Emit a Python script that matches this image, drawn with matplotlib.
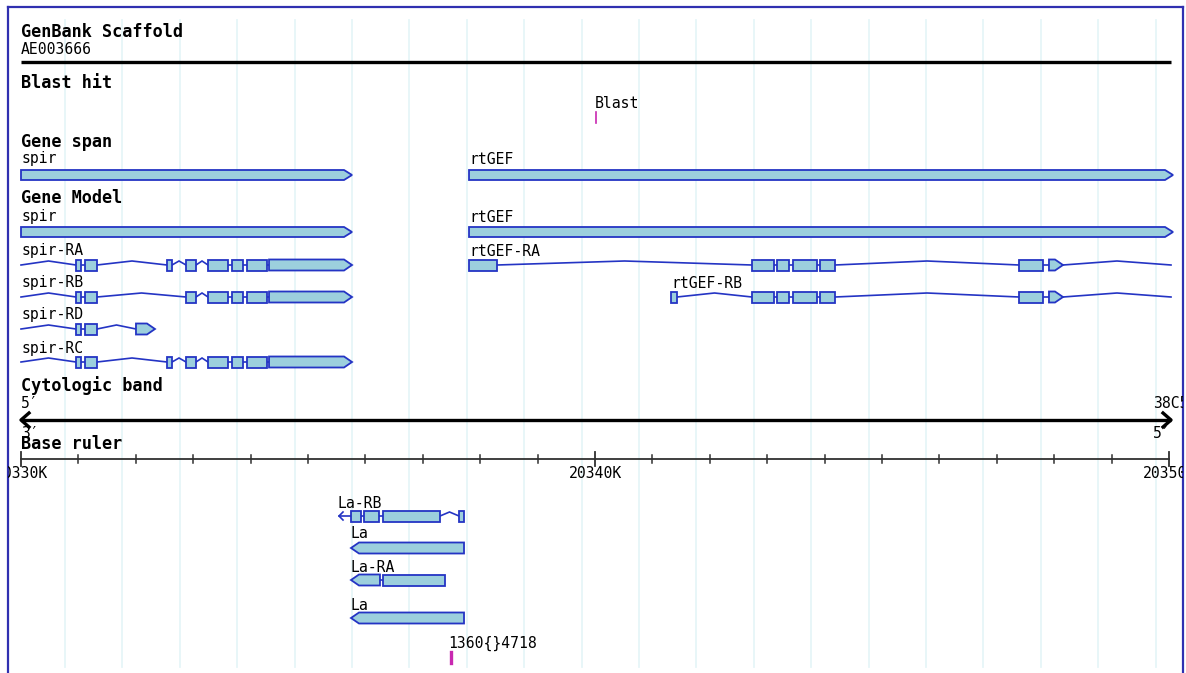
import matplotlib
matplotlib.use('Agg')
import matplotlib.pyplot as plt
from matplotlib.patches import Polygon

# ---------------- data (genomic coordinates, bp) ----------------
VIEW_START = 20330000
VIEW_END = 20350000
RULER_MAJOR = [20330000, 20340000, 20350000]
RULER_LABELS = ['20330K', '20340K', '20350K']
RULER_MINOR_STEP = 1000
GRID_FIRST = 20330767
GRID_STEP = 1000

scaffold_name = 'AE003666'
blast_label = 'Blast'
blast_pos = 20340017
hit_label = '1360{}4718'
hit_pos = 20337491
band_name = '38C5'

spir_span = (20330000, 20335767)
rtgef_span = (20337805, 20350070)

spir_RA = [(20330958, 20331045), (20331115, 20331324), (20332544, 20332631),
           (20332875, 20333049), (20333258, 20333606), (20333676, 20333868),
           (20333937, 20334286), (20334321, 20335767)]
spir_RB = [(20330958, 20331045), (20331115, 20331324),
           (20332875, 20333049), (20333258, 20333606), (20333676, 20333868),
           (20333937, 20334286), (20334321, 20335767)]
spir_RD = [(20330958, 20331045), (20331115, 20331324), (20332003, 20332334)]
spir_RC = list(spir_RA)

rtgef_RA = [(20337805, 20338293), (20342735, 20343118), (20343171, 20343380),
            (20343449, 20343868), (20343920, 20344181), (20347387, 20347805),
            (20347909, 20348153)]
rtgef_RB = [(20341324, 20341429), (20342735, 20343118), (20343171, 20343380),
            (20343449, 20343868), (20343920, 20344181), (20347387, 20347805),
            (20347909, 20348153)]
rtgef_end = 20350035

La_RB = [(20335749, 20335923), (20335976, 20336237), (20336307, 20337300),
         (20337631, 20337718)]
La_RB_start = 20335540
La_span = (20335749, 20337718)
La_RA = [(20335749, 20336254), (20336307, 20337387)]

# ---------------- layout / style ----------------
W, H = 1186, 673
BPP = 10000 / 574.0          # bp per pixel
EDGE = '#2434C4'
FILL = '#9CCFDD'
GRID = '#E6F6F8'
FRAME = '#3030B0'
MAG = '#C828B0'
MONO = 'DejaVu Sans Mono'
FS_B = 12.2
FS_N = 10.6

fig = plt.figure(figsize=(W / 100, H / 100), dpi=100)
ax = fig.add_axes([8 / W, 0, 1175 / W, (H - 7) / H])
ax.set_xlim(VIEW_START - 13 * BPP, VIEW_START + 1162 * BPP)
ax.set_ylim(H, 7)
ax.set_xticks([])
ax.set_yticks([])
for s in ['left', 'top', 'right']:
    ax.spines[s].set_color(FRAME)
    ax.spines[s].set_linewidth(1.6)
ax.spines['bottom'].set_visible(False)

# grid
g = GRID_FIRST - GRID_STEP
while g < VIEW_END + GRID_STEP:
    ax.plot([g, g], [20, 667], color=GRID, lw=1.3, zorder=0)
    g += GRID_STEP


def txt(x, y, s, bold=False, ha='left', color='black'):
    ax.text(x, y, s, fontsize=FS_B if bold else FS_N, family=MONO,
            fontweight='bold' if bold else 'normal', ha=ha, va='center',
            color=color, clip_on=True)


def box(x0, x1, y, h=11, arrow=None):
    t = 8 * BPP
    top, bot = y - h / 2, y + h / 2
    if arrow == '+':
        tip = min(t, (x1 - x0) * 0.6)
        pts = [(x0, top), (x1 - tip, top), (x1, y), (x1 - tip, bot), (x0, bot)]
    elif arrow == '-':
        tip = min(t, (x1 - x0) * 0.6)
        pts = [(x0, y), (x0 + tip, top), (x1, top), (x1, bot), (x0 + tip, bot)]
    else:
        pts = [(x0, top), (x1, top), (x1, bot), (x0, bot)]
    ax.add_patch(Polygon(pts, closed=True, fc=FILL, ec=EDGE, lw=1.3,
                         joinstyle='miter', zorder=3))


def intron(x0, x1, y):
    rise = 4 if (x1 - x0) > 8 * BPP else 0
    ax.plot([x0, (x0 + x1) / 2, x1], [y, y - rise, y], color=EDGE, lw=1.2,
            zorder=2, solid_joinstyle='miter')


def transcript(exons, y, arrow_idx=None, arrow='+', start=None, end=None):
    if start is not None:
        intron(start, exons[0][0], y)
    for (a, b), (c, d) in zip(exons[:-1], exons[1:]):
        intron(b, c, y)
    if end is not None:
        intron(exons[-1][1], end, y)
    for i, (a, b) in enumerate(exons):
        box(a, b, y, arrow=arrow if i == arrow_idx else None)


# ---- GenBank Scaffold
txt(VIEW_START, 32, 'GenBank Scaffold', bold=True)
txt(VIEW_START, 50, scaffold_name)
ax.plot([VIEW_START, rtgef_end], [62, 62], color='black', lw=2.4,
        solid_capstyle='butt')

# ---- Blast hit
txt(VIEW_START, 83, 'Blast hit', bold=True)
txt(blast_pos - 1 * BPP, 103, blast_label)
ax.plot([blast_pos, blast_pos], [112, 123], color=MAG, lw=1.2)

# ---- Gene span
txt(VIEW_START, 142, 'Gene span', bold=True)
txt(spir_span[0], 159, 'spir')
box(spir_span[0], spir_span[1], 175, h=10, arrow='+')
txt(rtgef_span[0], 159, 'rtGEF')
box(rtgef_span[0], rtgef_span[1], 175, h=10, arrow='+')

# ---- Gene Model
txt(VIEW_START, 198, 'Gene Model', bold=True)
txt(spir_span[0], 217, 'spir')
box(spir_span[0], spir_span[1], 232, h=10, arrow='+')
txt(rtgef_span[0], 217, 'rtGEF')
box(rtgef_span[0], rtgef_span[1], 232, h=10, arrow='+')

rows = [('spir-RA', spir_RA, 265), ('spir-RB', spir_RB, 297),
        ('spir-RD', spir_RD, 329), ('spir-RC', spir_RC, 362)]
for name, ex, y in rows:
    txt(VIEW_START, y - 14, name)
    transcript(ex, y, arrow_idx=len(ex) - 1, start=VIEW_START)

txt(rtgef_RA[0][0], 251, 'rtGEF-RA')
transcript(rtgef_RA, 265, arrow_idx=len(rtgef_RA) - 1, end=rtgef_end)
txt(rtgef_RB[0][0], 283, 'rtGEF-RB')
transcript(rtgef_RB, 297, arrow_idx=len(rtgef_RB) - 1, end=rtgef_end)

# ---- Cytologic band
txt(VIEW_START, 386, 'Cytologic band', bold=True)
txt(VIEW_START, 403, '5\u2032')
txt(VIEW_START, 433, '3\u2032')
xr = rtgef_end
ax.plot([VIEW_START, xr], [420, 420], color='black', lw=2.4,
        solid_capstyle='butt', zorder=4)
ah = 8 * BPP
ax.plot([VIEW_START + ah, VIEW_START, VIEW_START + ah], [413, 420, 427],
        color='black', lw=2.4, zorder=4)
ax.plot([xr - ah, xr, xr - ah], [413, 420, 427], color='black', lw=2.4,
        zorder=4)
txt(xr - 18 * BPP, 403, band_name, bold=False)
txt(xr - 18 * BPP, 433, '5\u2032')

# ---- Base ruler
txt(VIEW_START, 444, 'Base ruler', bold=True)
ax.plot([VIEW_START, VIEW_END], [459, 459], color='#303030', lw=1.3)
m = VIEW_START
while m <= VIEW_END:
    if m in RULER_MAJOR:
        ax.plot([m, m], [452, 466], color='#303030', lw=1.3)
    else:
        ax.plot([m, m], [455, 463], color='#303030', lw=1.1)
    m += RULER_MINOR_STEP
for p, lab in zip(RULER_MAJOR, RULER_LABELS):
    txt(p, 473, lab, ha='center')

# ---- La
txt(La_RB_start - 1 * BPP, 504, 'La-RB')
ax.plot([La_RB_start, La_RB[0][0]], [516, 516], color=EDGE, lw=1.2)
ax.plot([La_RB_start + 4 * BPP, La_RB_start, La_RB_start + 4 * BPP],
        [512, 516, 520], color=EDGE, lw=1.2)
transcript(La_RB, 516)

txt(La_span[0], 534, 'La')
box(La_span[0], La_span[1], 548, arrow='-')
txt(La_RA[0][0], 567, 'La-RA')
transcript(La_RA, 580, arrow_idx=0, arrow='-')
txt(La_span[0], 605, 'La')
box(La_span[0], La_span[1], 618, arrow='-')

txt(hit_pos - 3 * BPP, 643, hit_label)
ax.plot([hit_pos, hit_pos], [652, 663], color=MAG, lw=2.4)

fig.savefig('out.png', dpi=100)
